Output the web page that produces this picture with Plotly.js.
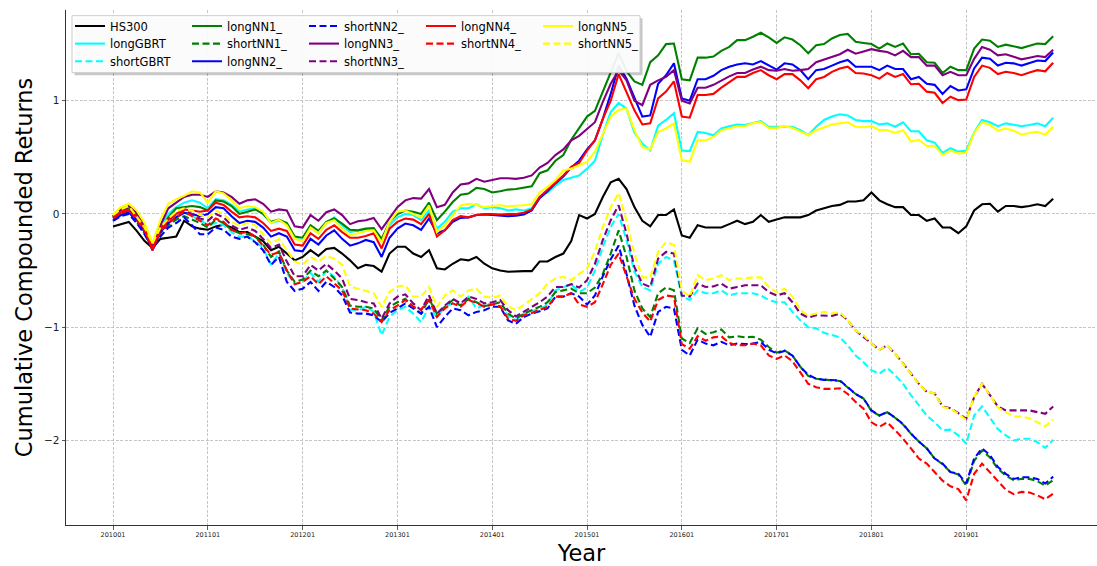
<!DOCTYPE html>
<html>
<head>
<meta charset="utf-8">
<script src="https://cdn.plot.ly/plotly-3.0.1.min.js"></script>
<style>html,body{margin:0;padding:0;background:#fff;}#chart{width:1097px;height:566px;}</style>
</head>
<body>
<div id="chart"></div>
<script>
// ---------- data ----------
const years = ['2010','2011','2012','2013','2014','2015','2016','2017','2018','2019'];
const months = ['01','02','03','04','05','06','07','08','09','10','11','12'];
const tickLabels = ['201001','201101','201201','201301','201401','201501','201601','201701','201801','201901'];

const HS300 = [-0.11,-0.09,-0.07,-0.15,-0.24,-0.30,-0.22,-0.21,-0.20,-0.06,-0.11,-0.13,
 -0.14,-0.11,-0.095,-0.12,-0.16,-0.16,-0.20,-0.24,-0.32,-0.29,-0.35,-0.41,
 -0.38,-0.32,-0.37,-0.31,-0.30,-0.35,-0.41,-0.48,-0.45,-0.46,-0.51,-0.35,
 -0.29,-0.29,-0.35,-0.38,-0.32,-0.48,-0.49,-0.44,-0.40,-0.41,-0.38,-0.44,
 -0.48,-0.50,-0.51,-0.505,-0.505,-0.505,-0.42,-0.42,-0.38,-0.35,-0.24,-0.01,
 -0.04,0.0,0.15,0.28,0.31,0.22,0.06,-0.06,-0.11,-0.01,-0.01,0.04,
 -0.19,-0.21,-0.10,-0.12,-0.12,-0.12,-0.09,-0.06,-0.09,-0.07,-0.01,-0.07,
 -0.05,-0.03,-0.03,-0.03,-0.01,0.03,0.05,0.07,0.08,0.11,0.11,0.12,
 0.19,0.12,0.085,0.06,0.06,-0.01,-0.01,-0.06,-0.04,-0.12,-0.12,-0.17,
 -0.11,0.03,0.085,0.09,0.02,0.07,0.07,0.06,0.07,0.085,0.07,0.135];

const longGBRT = [-0.02,0.04,0.07,0.01,-0.10,-0.27,-0.10,0.0,0.06,0.10,0.12,0.10,
 0.05,0.13,0.12,0.08,0.02,0.04,0.05,0.0,-0.08,-0.06,-0.08,-0.22,
 -0.23,-0.12,-0.17,-0.08,-0.03,-0.10,-0.16,-0.145,-0.14,-0.13,-0.23,-0.10,
 -0.03,0.0,-0.01,-0.055,0.03,-0.13,-0.07,0.02,0.05,0.05,0.085,0.05,
 0.06,0.05,0.03,0.04,0.03,0.05,0.15,0.19,0.25,0.30,0.32,0.34,
 0.40,0.47,0.70,0.90,0.98,0.93,0.72,0.62,0.56,0.78,0.83,0.89,
 0.56,0.555,0.725,0.715,0.695,0.755,0.775,0.79,0.785,0.805,0.82,0.77,
 0.77,0.775,0.77,0.74,0.695,0.77,0.83,0.86,0.88,0.87,0.83,0.82,
 0.82,0.79,0.80,0.77,0.81,0.73,0.73,0.65,0.63,0.54,0.58,0.55,
 0.56,0.72,0.83,0.81,0.775,0.80,0.79,0.775,0.785,0.80,0.775,0.85];

const shortGBRT = [-0.03,0.02,0.03,-0.05,-0.15,-0.28,-0.15,-0.08,-0.02,0.01,-0.02,-0.05,
 -0.10,-0.08,-0.10,-0.16,-0.20,-0.20,-0.24,-0.30,-0.45,-0.35,-0.52,-0.62,
 -0.60,-0.52,-0.60,-0.50,-0.555,-0.645,-0.845,-0.855,-0.82,-0.865,-1.07,-0.91,
 -0.85,-0.82,-0.88,-0.955,-0.82,-0.91,-0.82,-0.79,-0.805,-0.73,-0.835,-0.805,
 -0.79,-0.82,-0.895,-0.94,-0.88,-0.855,-0.845,-0.80,-0.675,-0.645,-0.62,-0.69,
 -0.65,-0.50,-0.29,-0.115,0.0,-0.23,-0.51,-0.645,-0.675,-0.44,-0.38,-0.41,
 -0.73,-0.76,-0.675,-0.70,-0.70,-0.675,-0.72,-0.70,-0.70,-0.70,-0.72,-0.76,
 -0.78,-0.78,-0.865,-0.94,-1.0,-1.01,-1.05,-1.07,-1.09,-1.16,-1.25,-1.31,
 -1.38,-1.41,-1.36,-1.425,-1.50,-1.60,-1.69,-1.78,-1.84,-1.91,-1.905,-1.955,
 -2.03,-1.78,-1.70,-1.80,-1.90,-1.955,-2.0,-1.985,-1.985,-2.015,-2.065,-1.995];

const longNN1 = [-0.03,0.03,0.05,0.0,-0.12,-0.28,-0.13,-0.03,0.05,0.06,0.07,0.06,
 0.03,0.12,0.11,0.07,0.0,0.02,0.04,0.0,-0.07,-0.05,-0.08,-0.20,
 -0.21,-0.10,-0.15,-0.07,-0.04,-0.085,-0.14,-0.145,-0.13,-0.125,-0.22,-0.07,
 0.0,0.03,0.02,0.0,0.10,-0.055,0.02,0.105,0.17,0.18,0.23,0.22,
 0.19,0.20,0.215,0.22,0.23,0.245,0.36,0.385,0.47,0.52,0.655,0.76,
 0.86,0.91,1.08,1.24,1.42,1.26,1.17,1.14,1.34,1.40,1.50,1.505,
 1.19,1.18,1.38,1.38,1.39,1.44,1.475,1.535,1.535,1.565,1.60,1.56,
 1.51,1.56,1.54,1.49,1.42,1.49,1.50,1.55,1.58,1.59,1.52,1.51,
 1.50,1.46,1.505,1.475,1.505,1.41,1.415,1.34,1.335,1.245,1.30,1.27,
 1.27,1.46,1.54,1.53,1.475,1.495,1.48,1.465,1.485,1.505,1.50,1.57];

const shortNN1 = [-0.04,0.0,0.02,-0.07,-0.17,-0.30,-0.17,-0.10,-0.05,-0.02,-0.05,-0.08,
 -0.12,-0.05,-0.08,-0.14,-0.17,-0.18,-0.20,-0.27,-0.38,-0.33,-0.50,-0.60,
 -0.58,-0.50,-0.55,-0.50,-0.57,-0.645,-0.81,-0.82,-0.82,-0.835,-0.94,-0.82,
 -0.78,-0.75,-0.82,-0.88,-0.75,-0.88,-0.82,-0.76,-0.81,-0.75,-0.78,-0.815,
 -0.80,-0.78,-0.88,-0.925,-0.88,-0.85,-0.82,-0.78,-0.69,-0.675,-0.66,-0.70,
 -0.70,-0.65,-0.53,-0.35,-0.145,-0.38,-0.675,-0.835,-0.91,-0.70,-0.65,-0.675,
 -1.10,-1.14,-1.01,-1.06,-1.045,-1.02,-1.09,-1.08,-1.09,-1.085,-1.11,-1.175,
 -1.225,-1.205,-1.25,-1.35,-1.43,-1.455,-1.465,-1.47,-1.475,-1.53,-1.59,-1.63,
 -1.74,-1.78,-1.75,-1.80,-1.86,-1.94,-2.01,-2.07,-2.16,-2.21,-2.28,-2.30,
 -2.40,-2.18,-2.09,-2.15,-2.25,-2.31,-2.35,-2.34,-2.34,-2.36,-2.40,-2.35];

const longNN2 = [-0.06,-0.01,0.01,-0.05,-0.16,-0.32,-0.16,-0.08,-0.03,0.01,0.0,-0.02,
 0.0,0.06,0.05,-0.02,-0.08,-0.06,-0.07,-0.12,-0.20,-0.17,-0.20,-0.32,
 -0.33,-0.22,-0.27,-0.19,-0.145,-0.22,-0.28,-0.26,-0.23,-0.25,-0.38,-0.21,
 -0.13,-0.085,-0.10,-0.14,-0.04,-0.17,-0.145,-0.07,-0.035,-0.03,-0.01,-0.005,
 -0.01,-0.015,-0.02,-0.015,-0.005,0.03,0.14,0.20,0.27,0.33,0.41,0.47,
 0.57,0.65,0.84,1.06,1.31,1.195,1.03,0.86,0.87,1.15,1.225,1.33,
 1.02,1.0,1.19,1.19,1.22,1.27,1.30,1.32,1.33,1.32,1.35,1.31,
 1.275,1.33,1.32,1.27,1.19,1.27,1.28,1.31,1.34,1.36,1.30,1.30,
 1.30,1.27,1.31,1.28,1.28,1.19,1.21,1.15,1.14,1.06,1.13,1.09,
 1.10,1.285,1.38,1.37,1.31,1.335,1.33,1.31,1.335,1.355,1.35,1.425];

const shortNN2 = [-0.06,-0.02,0.0,-0.08,-0.18,-0.31,-0.20,-0.12,-0.08,-0.03,-0.10,-0.18,
 -0.18,-0.12,-0.14,-0.20,-0.22,-0.20,-0.25,-0.32,-0.45,-0.38,-0.60,-0.68,
 -0.66,-0.60,-0.68,-0.60,-0.645,-0.72,-0.87,-0.88,-0.88,-0.895,-0.955,-0.875,
 -0.835,-0.79,-0.835,-0.88,-0.82,-1.0,-0.91,-0.835,-0.85,-0.895,-0.865,-0.85,
 -0.82,-0.82,-0.94,-0.97,-0.91,-0.88,-0.86,-0.835,-0.73,-0.73,-0.70,-0.73,
 -0.80,-0.72,-0.55,-0.40,-0.28,-0.53,-0.81,-0.98,-1.085,-0.865,-0.82,-0.835,
 -1.2,-1.25,-1.11,-1.145,-1.16,-1.13,-1.16,-1.145,-1.15,-1.145,-1.13,-1.2,
 -1.23,-1.21,-1.25,-1.35,-1.42,-1.455,-1.465,-1.47,-1.47,-1.53,-1.59,-1.63,
 -1.735,-1.78,-1.75,-1.80,-1.855,-1.94,-2.01,-2.07,-2.16,-2.205,-2.28,-2.295,
 -2.38,-2.16,-2.07,-2.13,-2.235,-2.295,-2.34,-2.325,-2.325,-2.34,-2.38,-2.32];

const longNN3 = [-0.02,0.04,0.07,0.01,-0.12,-0.32,-0.10,0.05,0.10,0.15,0.17,0.17,
 0.15,0.20,0.19,0.15,0.09,0.12,0.13,0.09,0.02,0.04,0.03,-0.11,
 -0.12,-0.01,-0.06,0.015,0.04,-0.01,-0.09,-0.065,-0.055,-0.035,-0.135,-0.04,
 0.06,0.12,0.14,0.135,0.22,0.06,0.08,0.19,0.26,0.27,0.31,0.285,
 0.30,0.315,0.315,0.31,0.32,0.34,0.41,0.45,0.52,0.57,0.65,0.69,
 0.75,0.81,0.99,1.15,1.27,1.18,1.0,0.96,1.14,1.18,1.21,1.27,
 1.0,0.975,1.115,1.115,1.14,1.18,1.215,1.245,1.245,1.275,1.30,1.27,
 1.265,1.28,1.265,1.27,1.28,1.34,1.365,1.39,1.41,1.45,1.415,1.435,
 1.455,1.44,1.43,1.40,1.44,1.385,1.385,1.31,1.31,1.225,1.255,1.225,
 1.225,1.37,1.475,1.45,1.40,1.41,1.39,1.365,1.38,1.395,1.385,1.45];

const shortNN3 = [-0.02,0.03,0.05,-0.04,-0.14,-0.28,-0.13,-0.06,0.0,0.03,0.0,-0.04,
 -0.06,0.0,-0.03,-0.10,-0.14,-0.12,-0.15,-0.22,-0.30,-0.27,-0.42,-0.55,
 -0.55,-0.45,-0.50,-0.44,-0.50,-0.57,-0.75,-0.76,-0.78,-0.79,-0.925,-0.79,
 -0.73,-0.71,-0.79,-0.85,-0.72,-0.88,-0.81,-0.75,-0.79,-0.73,-0.75,-0.79,
 -0.78,-0.76,-0.85,-0.905,-0.865,-0.82,-0.78,-0.73,-0.645,-0.645,-0.62,-0.65,
 -0.585,-0.44,-0.23,-0.055,0.077,-0.175,-0.47,-0.615,-0.645,-0.395,-0.335,-0.35,
 -0.72,-0.73,-0.615,-0.645,-0.64,-0.615,-0.66,-0.645,-0.63,-0.63,-0.63,-0.69,
 -0.72,-0.70,-0.78,-0.88,-0.915,-0.895,-0.895,-0.90,-0.88,-0.94,-1.03,-1.085,
 -1.145,-1.20,-1.16,-1.235,-1.32,-1.41,-1.50,-1.57,-1.585,-1.70,-1.715,-1.76,
 -1.81,-1.62,-1.50,-1.60,-1.70,-1.735,-1.735,-1.735,-1.735,-1.75,-1.765,-1.70];

const longNN4 = [-0.04,0.01,0.03,-0.02,-0.14,-0.32,-0.13,-0.05,0.0,0.04,0.03,0.02,
 0.03,0.10,0.08,0.02,-0.03,-0.02,-0.03,-0.08,-0.15,-0.13,-0.15,-0.27,
 -0.28,-0.17,-0.22,-0.14,-0.10,-0.16,-0.21,-0.21,-0.195,-0.17,-0.305,-0.13,
 -0.07,-0.04,-0.05,-0.09,0.0,-0.20,-0.145,-0.055,-0.02,-0.03,-0.01,0.0,
 0.0,-0.005,0.0,0.0,0.01,0.04,0.15,0.215,0.28,0.34,0.415,0.45,
 0.56,0.65,0.84,1.0,1.235,1.08,0.915,0.79,0.80,1.02,1.08,1.17,
 0.86,0.85,1.05,1.05,1.06,1.115,1.165,1.21,1.21,1.245,1.27,1.225,
 1.19,1.235,1.235,1.18,1.11,1.19,1.21,1.255,1.285,1.30,1.245,1.24,
 1.225,1.195,1.245,1.21,1.235,1.145,1.15,1.08,1.07,0.98,1.035,1.005,
 1.01,1.21,1.31,1.29,1.235,1.255,1.245,1.225,1.25,1.27,1.26,1.335];

const shortNN4 = [-0.03,0.02,0.04,-0.05,-0.15,-0.30,-0.16,-0.08,-0.03,0.02,-0.02,-0.06,
 -0.10,-0.04,-0.07,-0.14,-0.17,-0.16,-0.20,-0.28,-0.36,-0.34,-0.50,-0.62,
 -0.60,-0.55,-0.62,-0.55,-0.615,-0.675,-0.835,-0.845,-0.85,-0.88,-0.955,-0.85,
 -0.81,-0.76,-0.82,-0.845,-0.76,-0.91,-0.835,-0.79,-0.82,-0.76,-0.785,-0.82,
 -0.80,-0.815,-0.925,-0.945,-0.895,-0.875,-0.85,-0.82,-0.73,-0.73,-0.70,-0.80,
 -0.82,-0.78,-0.62,-0.45,-0.35,-0.56,-0.75,-0.87,-0.95,-0.76,-0.72,-0.73,
 -1.15,-1.19,-1.08,-1.12,-1.09,-1.08,-1.14,-1.16,-1.16,-1.145,-1.16,-1.25,
 -1.28,-1.25,-1.30,-1.40,-1.50,-1.53,-1.545,-1.545,-1.54,-1.59,-1.66,-1.72,
 -1.84,-1.88,-1.84,-1.91,-1.985,-2.07,-2.16,-2.205,-2.28,-2.355,-2.405,-2.43,
 -2.53,-2.295,-2.205,-2.285,-2.365,-2.435,-2.475,-2.455,-2.46,-2.485,-2.52,-2.47];

const longNN5 = [0.0,0.06,0.09,0.03,-0.08,-0.26,-0.05,0.09,0.13,0.16,0.20,0.19,
 0.10,0.20,0.18,0.12,0.05,0.07,0.06,0.02,-0.08,-0.05,-0.10,-0.22,
 -0.24,-0.12,-0.17,-0.08,-0.055,-0.13,-0.19,-0.17,-0.15,-0.145,-0.25,-0.07,
 0.02,0.03,0.0,-0.03,0.075,-0.16,-0.10,-0.01,0.075,0.09,0.08,0.06,
 0.07,0.077,0.068,0.07,0.077,0.09,0.19,0.24,0.30,0.385,0.40,0.43,
 0.46,0.55,0.70,0.86,0.92,0.93,0.74,0.59,0.57,0.725,0.755,0.80,
 0.475,0.46,0.65,0.65,0.68,0.74,0.755,0.775,0.775,0.80,0.81,0.76,
 0.76,0.775,0.76,0.73,0.695,0.74,0.765,0.79,0.80,0.81,0.77,0.765,
 0.775,0.74,0.74,0.715,0.74,0.64,0.655,0.60,0.60,0.52,0.56,0.535,
 0.54,0.715,0.81,0.785,0.735,0.755,0.735,0.70,0.715,0.725,0.70,0.77];

const shortNN5 = [-0.01,0.04,0.07,-0.02,-0.12,-0.26,-0.12,-0.04,0.02,0.05,0.03,-0.01,
 -0.03,0.03,0.0,-0.07,-0.10,-0.08,-0.10,-0.18,-0.26,-0.22,-0.32,-0.42,
 -0.45,-0.38,-0.42,-0.37,-0.395,-0.45,-0.64,-0.66,-0.675,-0.70,-0.82,-0.69,
 -0.64,-0.63,-0.73,-0.73,-0.645,-0.82,-0.72,-0.675,-0.73,-0.675,-0.66,-0.73,
 -0.74,-0.72,-0.815,-0.85,-0.805,-0.75,-0.70,-0.615,-0.57,-0.555,-0.585,-0.53,
 -0.48,-0.33,-0.115,0.06,0.185,-0.06,-0.35,-0.56,-0.56,-0.335,-0.25,-0.275,
 -0.675,-0.73,-0.54,-0.585,-0.57,-0.54,-0.585,-0.57,-0.57,-0.56,-0.56,-0.645,
 -0.69,-0.66,-0.73,-0.85,-0.895,-0.88,-0.865,-0.88,-0.865,-0.94,-1.03,-1.07,
 -1.145,-1.20,-1.16,-1.235,-1.32,-1.41,-1.50,-1.57,-1.585,-1.705,-1.72,-1.765,
 -1.82,-1.615,-1.50,-1.60,-1.71,-1.75,-1.79,-1.79,-1.805,-1.84,-1.875,-1.815];

// ---------- build ----------
const periods = [];
years.forEach(y => months.forEach(m => periods.push(y + m)));

const series = [
  {name:'HS300',     y:HS300,     color:'#000000', dash:'solid', legend:'legend'},
  {name:'longGBRT',  y:longGBRT,  color:'#00ffff', dash:'solid', legend:'legend2'},
  {name:'shortGBRT', y:shortGBRT, color:'#00ffff', dash:'dash',  legend:'legend3'},
  {name:'longNN1_',  y:longNN1,   color:'#008000', dash:'solid', legend:'legend'},
  {name:'shortNN1_', y:shortNN1,  color:'#008000', dash:'dash',  legend:'legend2'},
  {name:'longNN2_',  y:longNN2,   color:'#0000ff', dash:'solid', legend:'legend3'},
  {name:'shortNN2_', y:shortNN2,  color:'#0000ff', dash:'dash',  legend:'legend'},
  {name:'longNN3_',  y:longNN3,   color:'#800080', dash:'solid', legend:'legend2'},
  {name:'shortNN3_', y:shortNN3,  color:'#800080', dash:'dash',  legend:'legend3'},
  {name:'longNN4_',  y:longNN4,   color:'#ff0000', dash:'solid', legend:'legend'},
  {name:'shortNN4_', y:shortNN4,  color:'#ff0000', dash:'dash',  legend:'legend2'},
  {name:'longNN5_',  y:longNN5,   color:'#ffff00', dash:'solid', legend:'legend'},
  {name:'shortNN5_', y:shortNN5,  color:'#ffff00', dash:'dash',  legend:'legend2'}
];

const traces = series.map(s => ({
  type:'scatter', mode:'lines', x:periods, y:s.y, name:s.name, legend:s.legend,
  line:{color:s.color, width:2.1, dash: s.dash === 'dash' ? '7px,3.5px' : 'solid'},
  hoverinfo:'skip'
}));

// geometry of the plotting area (pixels)
const PL = 66, PT = 10, PW = 1097 - 66, PH = 566 - 10 - 41;
const fx = px => (px - PL) / PW;
const fy = py => (PT + PH - py) / PH;

const font = 'DejaVu Sans, Arial, sans-serif';
const legendBase = {
  orientation:'h', entrywidth:72, entrywidthmode:'pixels',
  bgcolor:'rgba(0,0,0,0)', borderwidth:0,
  font:{family:font, size:11.5, color:'#000'},
  xanchor:'left', yanchor:'middle', x: fx(70), itemclick:false, itemdoubleclick:false
};

const layout = {
  width:1097, height:566,
  margin:{l:PL, r:0, t:PT, b:41, pad:0},
  paper_bgcolor:'#ffffff', plot_bgcolor:'#ffffff',
  font:{family:font, color:'#000'},
  showlegend:true,
  legend:  Object.assign({}, legendBase, {y: fy(26)}),
  legend2: Object.assign({}, legendBase, {y: fy(43.6)}),
  legend3: Object.assign({}, legendBase, {y: fy(61.3)}),
  xaxis:{
    type:'category', range:[-5.95, 124.55], autorange:false,
    tickmode:'array', tickvals:tickLabels, ticktext:tickLabels,
    tickfont:{size:6.5, color:'#222', family:font}, tickangle:0,
    ticks:'outside', ticklen:3.5, tickwidth:0.8, tickcolor:'#333',
    showgrid:true, gridcolor:'#b8b8b8', gridwidth:0.8, griddash:'3px,1.5px',
    showline:true, linecolor:'#333', linewidth:1, mirror:false, zeroline:false,
    automargin:false,
    title:{text:'Year', font:{size:22.5, family:font, color:'#000'}, standoff:12}
  },
  yaxis:{
    range:[-2.747, 1.801], autorange:false,
    tickmode:'array', tickvals:[-2,-1,0,1], ticktext:['\u22122','\u22121','0','1'],
    tickfont:{size:10.5, color:'#222', family:font},
    ticks:'outside', ticklen:3.5, tickwidth:0.8, tickcolor:'#333',
    showgrid:true, gridcolor:'#b8b8b8', gridwidth:0.8, griddash:'3px,1.5px',
    showline:true, linecolor:'#333', linewidth:1, mirror:false, zeroline:false,
    automargin:false,
    title:{text:'Cumulative Compounded Returns', font:{size:22.5, family:font, color:'#000'}, standoff:5}
  },
  shapes:[
    {type:'rect', xref:'paper', yref:'paper', layer:'above',
     x0:fx(74.5), x1:fx(642.5), y0:fy(75.2), y1:fy(18.2),
     fillcolor:'rgba(0,0,0,0.22)', line:{width:0}},
    {type:'rect', xref:'paper', yref:'paper', layer:'above',
     x0:fx(72), x1:fx(640), y0:fy(72.7), y1:fy(15.7),
     fillcolor:'rgba(255,255,255,0.92)', line:{color:'#cccccc', width:1}}
  ]
};

Plotly.newPlot('chart', traces, layout, {staticPlot:true, displayModeBar:false});
</script>
</body>
</html>
